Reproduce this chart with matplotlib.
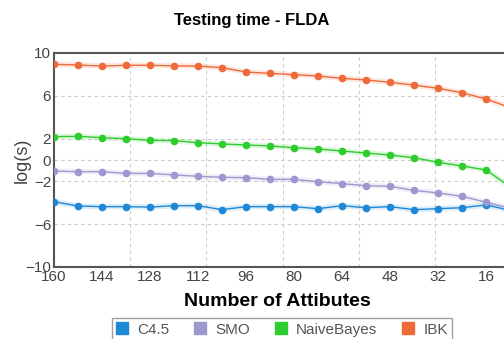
import matplotlib.pyplot as plt
import numpy as np

plt.rcParams['font.family'] = ['Liberation Sans', 'DejaVu Sans']

attributes = [160, 152, 144, 136, 128, 120, 112, 104, 96, 88, 80, 72,
              64, 56, 48, 40, 32, 24, 16, 8]
c45 = [-3.9, -4.3, -4.36, -4.36, -4.4, -4.27, -4.27, -4.64, -4.36, -4.36,
       -4.36, -4.55, -4.27, -4.46, -4.36, -4.64, -4.55, -4.46, -4.2, -4.7]
smo = [-1.03, -1.09, -1.09, -1.25, -1.25, -1.4, -1.52, -1.62, -1.65, -1.81,
       -1.81, -2.03, -2.21, -2.4, -2.46, -2.84, -3.08, -3.39, -3.95, -4.5]
naive_bayes = [2.18, 2.21, 2.09, 1.99, 1.84, 1.81, 1.62, 1.5, 1.4, 1.31,
               1.15, 1.03, 0.84, 0.65, 0.47, 0.21, -0.21, -0.56, -0.93, -2.5]
ibk = [8.94, 8.88, 8.78, 8.85, 8.85, 8.8, 8.78, 8.63, 8.22, 8.1,
       7.97, 7.85, 7.63, 7.48, 7.26, 7.0, 6.7, 6.29, 5.7, 4.9]

series = [('C4.5', c45, '#1f88d6'),
          ('SMO', smo, '#9d98d0'),
          ('NaiveBayes', naive_bayes, '#2ecc2e'),
          ('IBK', ibk, '#ee6a3a')]

xticks = [160, 144, 128, 112, 96, 80, 64, 48, 32, 16]
yticks = [10, 6, 2, 0, -2, -6, -10]

fig = plt.figure(figsize=(5.04, 3.39), dpi=100)
ax = fig.add_axes([54 / 504, 72 / 339, 480 / 504, 214 / 339])

# vertical grid lines (not aligned with the labels in the original)
for gx in [134.7, 109.3, 83.7, 58.3, 33.0, 7.7]:
    ax.axvline(gx, color='#cccccc', linestyle=(0, (3, 3)), linewidth=0.8, zorder=0)
for gy in [6, 2, 0, -2, -6]:
    ax.axhline(gy, color='#cccccc', linestyle=(0, (3, 3)), linewidth=0.8, zorder=0)

handles = []
for name, vals, col in series:
    ax.plot(attributes, vals, '-', color=col, linewidth=4, alpha=0.15,
            solid_capstyle='round', zorder=2)
    ax.plot(attributes, vals, '-o', color=col, linewidth=1, markersize=4.5,
            zorder=3)
    h, = ax.plot([], [], 's', color=col, markersize=8, label=name)
    handles.append(h)

ax.set_xlim(160, 0)
ax.set_ylim(-10, 10)
ax.set_xticks(xticks)
ax.set_yticks(yticks)
ax.tick_params(length=0, labelsize=11, labelcolor='#444444', pad=2)
for s in ax.spines.values():
    s.set_color('#555555')
    s.set_linewidth(1.5)

fig.text(22 / 504, 1 - 160 / 339, 'log(s)', rotation=90, ha='center',
         va='center', fontsize=13, color='#444444')
fig.text(252 / 504, 1 - 20 / 339, 'Testing time - FLDA', ha='center',
         va='center', fontsize=12, fontweight='bold')
fig.text(277 / 504, 1 - 301 / 339, 'Number of Attibutes', ha='center',
         va='center', fontsize=14, fontweight='bold')

leg = fig.legend(handles=handles, loc='upper center', ncol=4,
                 bbox_to_anchor=(282 / 504, 1 - 318 / 339), frameon=True,
                 fancybox=False, fontsize=11, handlelength=0.8,
                 handletextpad=0.6, columnspacing=1.6, borderpad=0.3,
                 borderaxespad=0)
leg.get_frame().set_edgecolor('#888888')
leg.get_frame().set_linewidth(1)
for t in leg.get_texts():
    t.set_color('#555555')

fig.savefig('out.png', dpi=100)
